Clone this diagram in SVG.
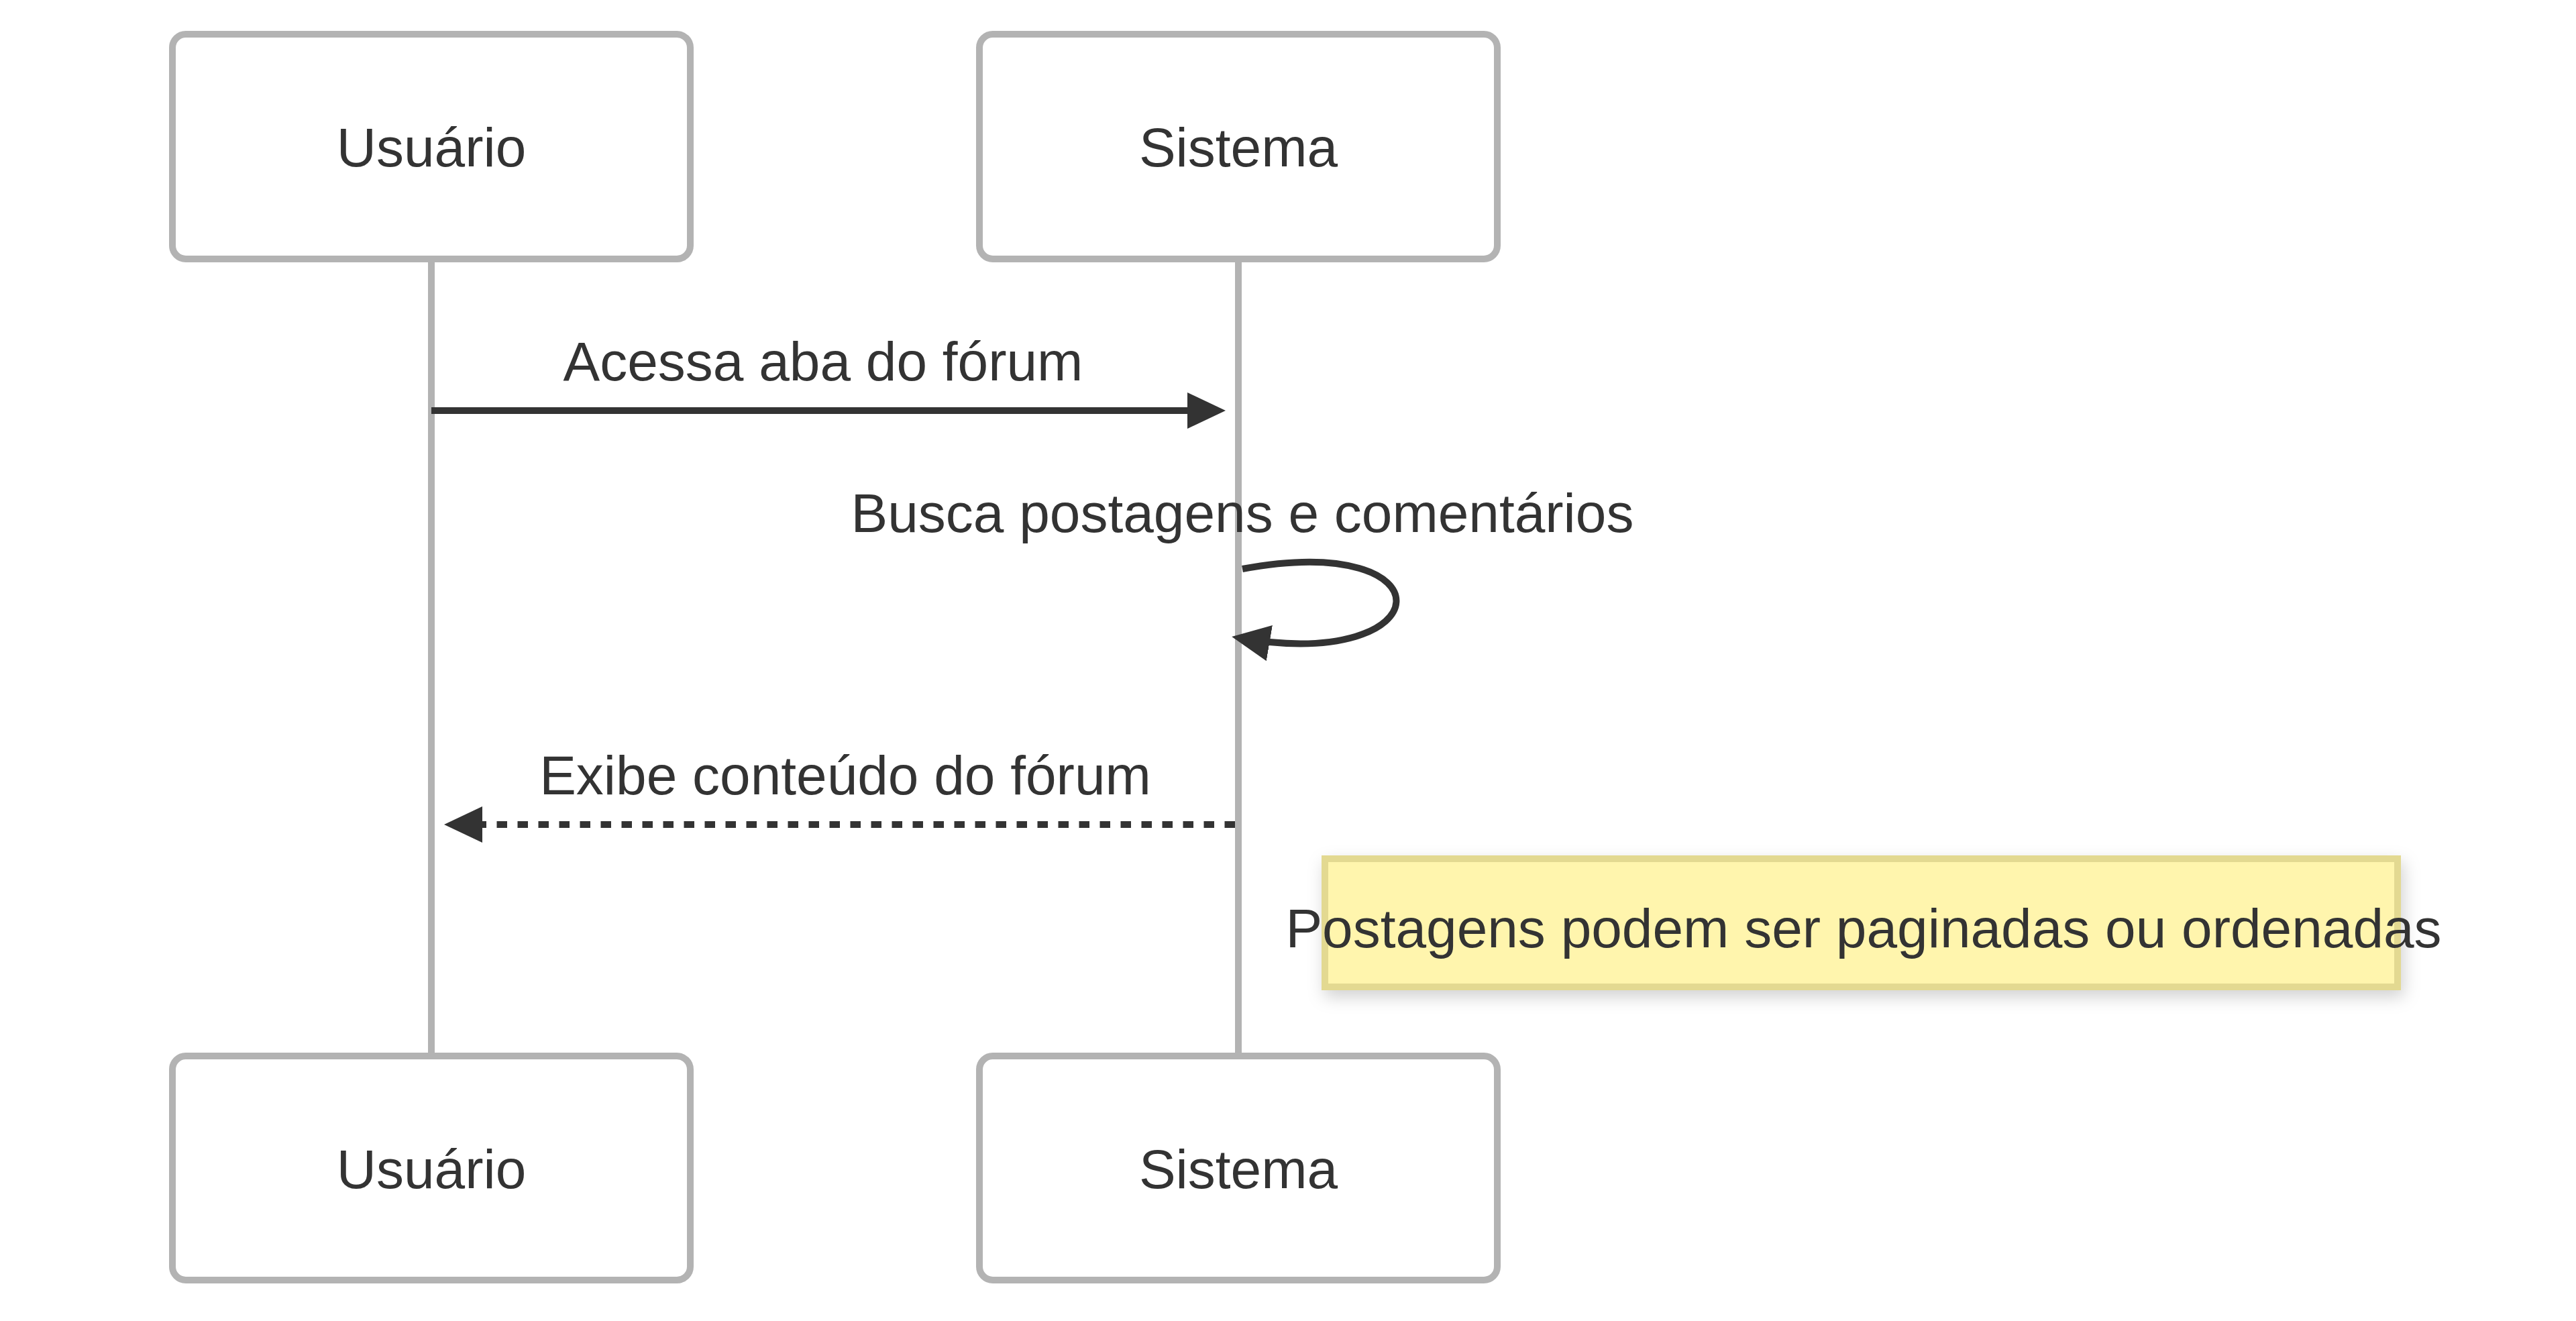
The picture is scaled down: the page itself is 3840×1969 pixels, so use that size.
<svg xmlns="http://www.w3.org/2000/svg" width="3840" height="1969" viewBox="0 0 3840 1969">
  <style>
    .actor { fill: #ffffff; stroke: #b3b3b3; stroke-width: 10; }
    .lifeline { stroke: #b3b3b3; stroke-width: 10; }
    .label { font-family: "Liberation Sans", Arial, sans-serif; font-size: 82px; fill: #333333; text-anchor: middle; }
    .msg { fill: none; stroke: #333333; stroke-width: 10; }
    .dotted { stroke-dasharray: 15.5 15.5; }
    .note { fill: #fff5ad; stroke: #e3d991; stroke-width: 10; }
  </style>
  <defs>
    <marker id="arrowhead" markerUnits="userSpaceOnUse" markerWidth="58" markerHeight="56" refX="45" refY="27" orient="auto" viewBox="0 0 58 56">
      <path d="M0,0 L57,27 L0,54 z" fill="#333333"/>
    </marker>
    <filter id="shadow" x="-10%" y="-30%" width="120%" height="170%">
      <feDropShadow dx="4" dy="10" stdDeviation="12" flood-color="#000000" flood-opacity="0.18"/>
    </filter>
  </defs>
  <rect width="3840" height="1969" fill="#ffffff"/>

  <g id="lifelines">
    <line class="lifeline" x1="643" y1="386" x2="643" y2="1574"/>
    <line class="lifeline" x1="1846" y1="386" x2="1846" y2="1574"/>
  </g>

  <g id="actor-usuario-top">
    <rect class="actor" x="257" y="51" width="772" height="335" rx="20" ry="20"/>
    <text class="label" x="643" y="248">Usuário</text>
  </g>
  <g id="actor-sistema-top">
    <rect class="actor" x="1460" y="51" width="772" height="335" rx="20" ry="20"/>
    <text class="label" x="1846" y="248">Sistema</text>
  </g>
  <g id="actor-usuario-bottom">
    <rect class="actor" x="257" y="1574" width="772" height="334" rx="20" ry="20"/>
    <text class="label" x="643" y="1771">Usuário</text>
  </g>
  <g id="actor-sistema-bottom">
    <rect class="actor" x="1460" y="1574" width="772" height="334" rx="20" ry="20"/>
    <text class="label" x="1846" y="1771">Sistema</text>
  </g>

  <g id="connectors">
    <line class="msg" x1="643" y1="612" x2="1815" y2="612" marker-end="url(#arrowhead)"/>
    <path class="msg" d="M1852,848 C2165,790 2152,1003 1848,951" marker-end="url(#arrowhead)"/>
    <line class="msg dotted" x1="1841" y1="1229" x2="674" y2="1229" marker-end="url(#arrowhead)"/>
  </g>

  <g id="message-labels">
    <text class="label" x="1227" y="567">Acessa aba do fórum</text>
    <text class="label" x="1852" y="793">Busca postagens e comentários</text>
    <text class="label" x="1260" y="1184">Exibe conteúdo do fórum</text>
  </g>

  <g id="note">
    <rect class="note" x="1975" y="1280" width="1599" height="191" filter="url(#shadow)"/>
    <text class="label" x="2778" y="1412">Postagens podem ser paginadas ou ordenadas</text>
  </g>
</svg>
